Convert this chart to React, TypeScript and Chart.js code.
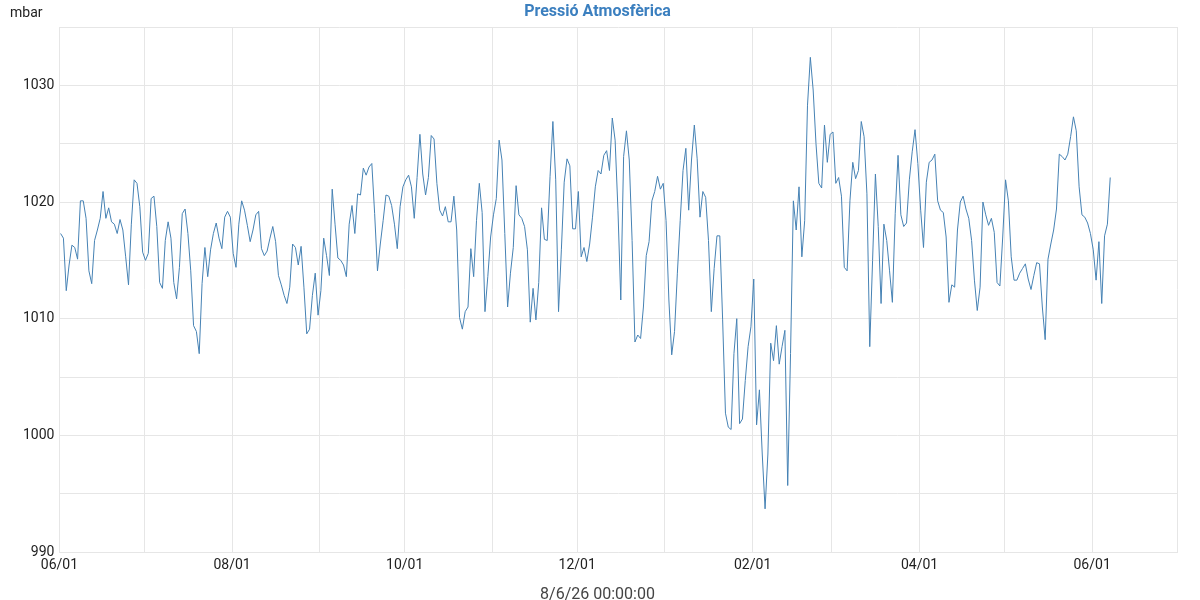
import React, { useEffect, useRef } from "react";
import { Chart, registerables } from "chart.js";

Chart.register(...registerables);

// Series start: 2025-06-01; one reading per day (mbar)
const startYear = 2025;
const startMonth = 5; // June (0-based)

const jun25 = [1017.3, 1016.9, 1012.4, 1014.6, 1016.3, 1016.1, 1015.1, 1020.1, 1020.1, 1018.6, 1014.1, 1013.0, 1016.7, 1017.6, 1018.6, 1020.9, 1018.6, 1019.5, 1018.3, 1018.1, 1017.3, 1018.5, 1017.6, 1015.3, 1012.9, 1018.1, 1021.9, 1021.6, 1019.6, 1015.7];
const jul25 = [1015.0, 1015.6, 1020.3, 1020.5, 1017.9, 1013.1, 1012.6, 1016.7, 1018.3, 1016.9, 1013.1, 1011.7, 1014.4, 1019.0, 1019.4, 1017.3, 1014.1, 1009.4, 1008.9, 1007.0, 1013.0, 1016.1, 1013.6, 1015.9, 1017.3, 1018.2, 1016.9, 1016.0, 1018.7, 1019.2, 1018.7];
const aug25 = [1015.6, 1014.4, 1018.1, 1020.1, 1019.3, 1018.0, 1016.6, 1017.6, 1018.9, 1019.2, 1016.0, 1015.4, 1015.8, 1016.9, 1017.9, 1016.6, 1013.7, 1012.9, 1012.0, 1011.3, 1012.7, 1016.4, 1016.1, 1014.6, 1016.2, 1012.7, 1008.7, 1009.1, 1012.0, 1013.9, 1010.3];
const sep25 = [1012.4, 1016.9, 1015.4, 1013.7, 1021.1, 1018.1, 1015.2, 1015.0, 1014.6, 1013.6, 1018.1, 1019.7, 1017.3, 1020.7, 1020.6, 1022.9, 1022.3, 1023.0, 1023.3, 1019.0, 1014.1, 1016.4, 1018.4, 1020.6, 1020.5, 1019.7, 1018.1, 1016.0, 1019.6, 1021.3];
const oct25 = [1021.9, 1022.3, 1021.3, 1018.6, 1022.1, 1025.8, 1022.4, 1020.6, 1022.1, 1025.7, 1025.4, 1021.6, 1019.3, 1018.8, 1019.6, 1018.3, 1018.3, 1020.5, 1017.6, 1010.1, 1009.1, 1010.6, 1011.0, 1016.0, 1013.6, 1018.4, 1021.6, 1019.1, 1010.6, 1013.6, 1017.0];
const nov25 = [1018.9, 1020.3, 1025.3, 1023.6, 1017.3, 1011.0, 1013.9, 1016.1, 1021.4, 1018.9, 1018.6, 1017.9, 1015.9, 1009.7, 1012.6, 1009.9, 1013.1, 1019.5, 1016.8, 1016.7, 1022.2, 1026.9, 1021.9, 1010.6, 1015.9, 1021.7, 1023.7, 1023.1, 1017.7, 1017.7];
const dec25 = [1020.9, 1015.3, 1016.1, 1014.9, 1016.4, 1018.7, 1021.3, 1022.7, 1022.4, 1024.0, 1024.4, 1022.7, 1027.2, 1025.3, 1019.3, 1011.6, 1023.9, 1026.1, 1023.6, 1016.7, 1008.0, 1008.6, 1008.3, 1011.0, 1015.4, 1016.6, 1020.1, 1020.9, 1022.2, 1021.1, 1021.6];
const jan26 = [1018.4, 1011.6, 1006.9, 1008.9, 1013.9, 1018.4, 1022.7, 1024.6, 1019.3, 1023.6, 1026.6, 1023.7, 1018.7, 1020.9, 1020.4, 1016.7, 1010.6, 1014.3, 1017.1, 1017.1, 1009.9, 1001.9, 1000.7, 1000.5, 1007.0, 1010.0, 1001.0, 1001.4, 1004.7, 1007.6, 1009.3];
const feb26 = [1013.4, 1000.9, 1003.9, 998.4, 993.7, 998.4, 1007.9, 1006.4, 1009.4, 1006.1, 1007.6, 1009.0, 995.7, 1007.0, 1020.1, 1017.6, 1021.3, 1015.3, 1018.4, 1028.3, 1032.4, 1029.6, 1025.0, 1021.6, 1021.2, 1026.6, 1023.4, 1025.8];
const mar26 = [1026.0, 1021.6, 1022.1, 1020.5, 1014.4, 1014.1, 1020.1, 1023.4, 1022.0, 1022.7, 1026.9, 1025.6, 1020.7, 1007.6, 1015.0, 1022.4, 1017.9, 1011.3, 1018.1, 1016.7, 1014.1, 1011.4, 1019.0, 1024.0, 1018.9, 1017.9, 1018.2, 1021.9, 1024.3, 1026.2, 1023.3];
const apr26 = [1019.3, 1016.1, 1021.7, 1023.4, 1023.6, 1024.1, 1020.1, 1019.3, 1019.1, 1017.0, 1011.4, 1012.9, 1012.7, 1017.6, 1020.0, 1020.5, 1019.4, 1018.6, 1016.7, 1013.3, 1010.7, 1012.7, 1020.0, 1018.9, 1018.0, 1018.6, 1017.4, 1013.1, 1012.8, 1017.0];
const may26 = [1021.9, 1020.1, 1015.3, 1013.3, 1013.3, 1013.9, 1014.3, 1014.7, 1013.4, 1012.5, 1013.7, 1014.8, 1014.7, 1011.0, 1008.2, 1015.1, 1016.4, 1017.6, 1019.4, 1024.1, 1023.9, 1023.6, 1024.1, 1025.6, 1027.3, 1026.1, 1021.3, 1018.9, 1018.7, 1018.2, 1017.3];
const jun26 = [1015.9, 1013.3, 1016.6, 1011.3, 1017.1, 1018.1, 1022.1];

const pressureMonths = [jun25, jul25, aug25, sep25, oct25, nov25, dec25, jan26, feb26, mar26, apr26, may26, jun26];

// x-axis: one tick per month start, label every second month
const monthTickLabels = ["06/01", "", "08/01", "", "10/01", "", "12/01", "", "02/01", "", "04/01", "", "06/01", ""];
const yTickMin = 990;
const yTickMax = 1035;
const yTickStep = 5;

const chartTitle = "Pressió Atmosfèrica";
const yUnit = "mbar";
const xTitle = "8/6/26 00:00:00";

const DAY = 86400000;
const startMs = Date.UTC(startYear, startMonth, 1);
const monthStartDays = monthTickLabels.map((_, i) => (Date.UTC(startYear, startMonth + i, 1) - startMs) / DAY);
const readingHour = 0.4; // readings sit a little after midnight

function buildPoints() {
  const pts: { x: number; y: number }[] = [];
  pressureMonths.forEach((vals, m) => {
    vals.forEach((v, i) => {
      pts.push({ x: monthStartDays[m] + i + readingHour, y: v });
    });
  });
  return pts;
}

export default function App() {
  const ref = useRef<HTMLCanvasElement | null>(null);

  useEffect(() => {
    if (!ref.current) return;
    const unitPlugin = {
      id: "unitLabel",
      afterDraw(chart: any) {
        const ctx = chart.ctx;
        ctx.save();
        ctx.font = "14px Roboto";
        ctx.fillStyle = "#222";
        ctx.textAlign = "left";
        ctx.textBaseline = "middle";
        ctx.fillText(yUnit, 10, 13);
        ctx.restore();
      },
    };
    const chart = new Chart(ref.current, {
      type: "line",
      data: {
        datasets: [
          {
            label: chartTitle,
            data: buildPoints(),
            borderColor: "#4682b4",
            borderWidth: 1,
            pointRadius: 0,
            tension: 0,
            fill: false,
          },
        ],
      },
      options: {
        animation: false,
        responsive: false,
        maintainAspectRatio: false,
        layout: { padding: { left: 18, right: 23, top: 0, bottom: 0 } },
        plugins: {
          legend: { display: false },
          tooltip: { enabled: false },
          title: {
            display: true,
            text: chartTitle,
            color: "#3b7fbf",
            font: { family: "Roboto", size: 16, weight: "bold" },
            padding: { top: 1.9, bottom: 5.9 },
          },
          subtitle: {
            display: true,
            position: "bottom",
            text: xTitle,
            color: "#444",
            font: { family: "Roboto", size: 16, lineHeight: 0.625 },
            padding: { top: 11.2, bottom: 0 },
          },
        },
        scales: {
          x: {
            type: "linear",
            min: monthStartDays[0],
            max: monthStartDays[monthStartDays.length - 1],
            afterBuildTicks: (axis: any) => {
              axis.ticks = monthStartDays.map((v) => ({ value: v }));
            },
            grid: { color: "#e6e6e6", drawTicks: false, lineWidth: 1 },
            border: { color: "#e6e6e6" },
            ticks: {
              autoSkip: false,
              maxRotation: 0,
              padding: 5,
              color: "#222",
              font: { family: "Roboto", size: 14 },
              callback: (value: any) => {
                const i = monthStartDays.indexOf(Number(value));
                return i >= 0 ? monthTickLabels[i] : "";
              },
            },
          },
          y: {
            type: "linear",
            min: yTickMin,
            max: yTickMax,
            grid: { color: "#e6e6e6", drawTicks: false, lineWidth: 1 },
            border: { color: "#e6e6e6" },
            ticks: {
              stepSize: yTickStep,
              padding: 5,
              color: "#222",
              font: { family: "Roboto", size: 14 },
              callback: (value: any) => (Number(value) % 10 === 0 ? String(value) : ""),
            },
          },
        },
      },
      plugins: [unitPlugin],
    } as any);
    return () => chart.destroy();
  }, []);

  return (
    <div style={{ position: "fixed", left: 0, top: 0, width: 1200, height: 600, background: "#fff" }}>
      <canvas ref={ref} width={1200} height={600} style={{ width: 1200, height: 600 }} />
    </div>
  );
}
